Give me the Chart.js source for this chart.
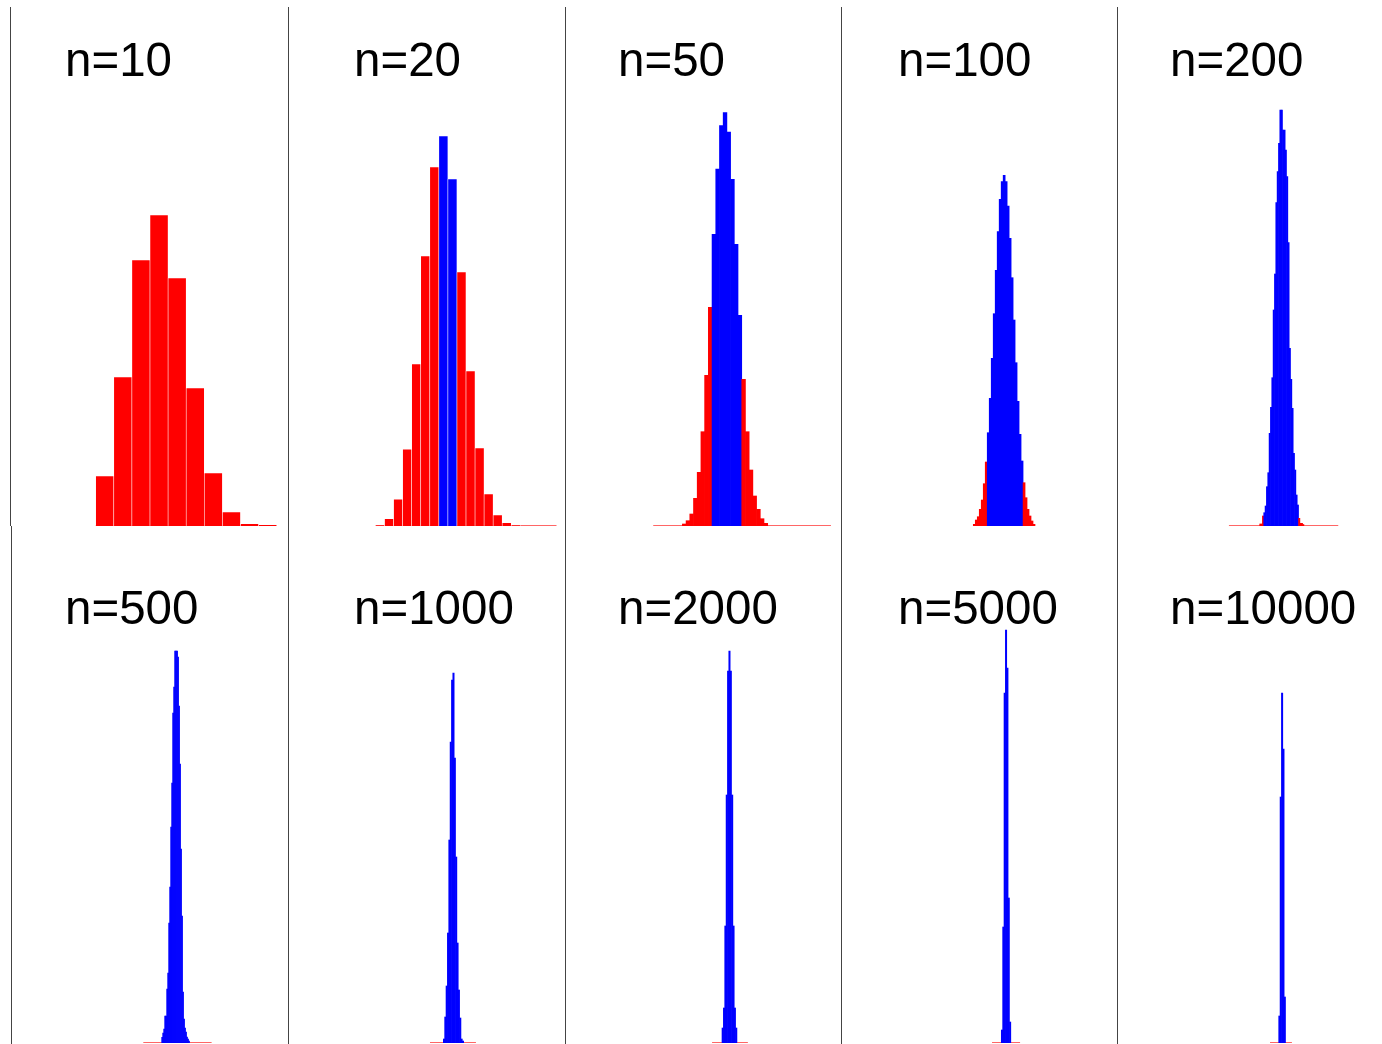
<!DOCTYPE html>
<html>
<head>
<meta charset="utf-8">
<script src="https://cdn.jsdelivr.net/npm/chart.js@4.4.1/dist/chart.umd.min.js"></script>
<style>
  html, body { margin: 0; padding: 0; background: #fff; }
  body { width: 1382px; height: 1044px; position: relative; overflow: hidden; }
  canvas { position: absolute; display: block; }
</style>
</head>
<body>
<script>
// ---- data (bar heights, left to right) ----
const labels = ['n=10', 'n=20', 'n=50', 'n=100', 'n=200',
                'n=500', 'n=1000', 'n=2000', 'n=5000', 'n=10000'];

const h10    = [50, 149, 266, 311, 248, 138, 53, 14, 2.3, 1.2];
const h20    = [1, 7.3, 26.7, 76.7, 162, 270, 359, 390, 347, 254, 155, 78, 32, 11, 3.3, 1];
const h50    = [2, 5.3, 12, 27.7, 53.7, 94.3, 150.7, 218.7, 291.7, 357, 400.3, 413.3,
                394, 346.7, 281.7, 210.7, 146.7, 94.3, 56, 30, 16.7, 7.3, 2.7];
const h100   = [1.7, 6, 9.3, 16.7, 26, 42.3, 64, 93.3, 127.7, 167.7, 212.3, 255.7, 294.3,
                326.7, 344.3, 350.7, 344.3, 320, 287.7, 248.3, 206, 163.3, 124.7, 91.7,
                65, 43.3, 28.3, 16.7, 10, 5, 1.7];
const h200   = [2, 2, 10, 13.3, 20, 39.3, 53.3, 92.7, 118.7, 148.3, 216, 252, 323.3, 354.3,
                382.7, 416, 416, 396, 396, 376, 349.3, 283.3, 177.7, 146.7, 117.7, 72.7,
                56, 31, 21, 7.7, 2.7, 2.7, 1.5];
const h500   = [5.7, 10, 14, 27, 27, 54, 70, 120, 156, 216, 260, 330, 356, 392, 392, 392,
                386, 337, 279, 194, 127, 51, 24, 15, 11, 6, 4, 2];
const h1000  = [4, 26, 57, 110, 203, 301, 363, 370, 285, 186, 100, 53, 25, 4, 2];
const h2000  = [15, 35, 117, 248, 372, 392, 372, 248, 117, 35, 15];
const h5000  = [13, 116, 350, 413, 375, 145, 21];
const h10000 = [27, 246, 350, 294, 46];

const heights = [h10, h20, h50, h100, h200, h500, h1000, h2000, h5000, h10000];

// left edge of first bar and bin width (x units)
const binStart = [-0.01, 0.0, 0.165, 0.2475, 0.305, 0.349, 0.3746, 0.384, 0.4022, 0.41];
const binWidth = [0.1, 0.05, 0.0205, 0.011, 0.0074, 0.0055, 0.0075, 0.0075, 0.0075, 0.0075];

// bins drawn in blue (index range, inclusive); -1 = none
const blueFrom = [-1, 7, 8, 7, 3, 0, 0, 0, 0, 0];
const blueTo   = [-1, 8, 15, 24, 28, 27, 14, 10, 6, 4];

// faint baseline covering the whole observed range
const spanLo = [-0.01, 0.0, 0.004, 0.2475, 0.135, 0.2475, 0.301, 0.329, 0.351, 0.362];
const spanHi = [0.99, 1.0, 0.986, 0.5885, 0.739, 0.625, 0.555, 0.527, 0.506, 0.483];

// ---- layout ----
const lineX = [10, 288, 565, 841, 1117, 11, 288, 565, 841, 1117];
const rowTop = [7, 526];
const rowHeight = [519, 518];
const labelX = [65, 354, 618, 898, 1170, 65, 354, 618, 898, 1170];
const labelBase = [76, 624];
const X_ORIGIN = 87.5, PX_PER_UNIT = 181;
const RED = '#FF0000', BLUE = '#0000FF';

const panelLabel = {
  id: 'panelLabel',
  afterDraw(chart, args, opts) {
    const ctx = chart.ctx;
    ctx.save();
    ctx.font = '47.5px "Liberation Sans", Arial, sans-serif';
    ctx.fillStyle = '#000';
    ctx.textBaseline = 'alphabetic';
    ctx.fillText(opts.text, opts.x, opts.y);
    ctx.restore();
  }
};

function makePanel(i) {
  const row = i < 5 ? 0 : 1;
  const last = i % 5 === 4;
  const left = lineX[i] - 1;
  const w = last ? 1382 - left : lineX[i + 1] - lineX[i];
  const h = rowHeight[row];
  const padBottom = row === 1 ? 1 : 0;

  const cv = document.createElement('canvas');
  cv.width = w; cv.height = h;
  cv.style.left = left + 'px';
  cv.style.top = rowTop[row] + 'px';
  document.body.appendChild(cv);

  const hs = heights[i];
  const pts = hs.map((v, k) => ({ x: binStart[i] + (k + 0.5) * binWidth[i], y: v }));
  const cols = hs.map((v, k) => (k >= blueFrom[i] && k <= blueTo[i]) ? BLUE : RED);
  const wide = i <= 1;   // only the wide bars show the light outline
  const plotW = w - 1;

  new Chart(cv.getContext('2d'), {
    type: 'bar',
    data: {
      datasets: [
        {
          type: 'line',
          data: [{ x: spanLo[i], y: 0.5 }, { x: spanHi[i], y: 0.5 }],
          borderColor: 'rgba(255,0,0,0.6)', borderWidth: 1, pointRadius: 0, order: 2
        },
        {
          data: pts,
          backgroundColor: cols,
          borderColor: wide ? 'rgba(255,255,255,0.75)' : cols,
          borderWidth: wide ? 0.6 : 0,
          barThickness: binWidth[i] * PX_PER_UNIT,
          order: 1
        }
      ]
    },
    options: {
      responsive: false,
      animation: false,
      events: [],
      layout: { padding: { left: 1, right: 0, top: 0, bottom: padBottom } },
      plugins: {
        legend: { display: false },
        tooltip: { enabled: false },
        panelLabel: { text: labels[i], x: labelX[i] - left, y: labelBase[row] - rowTop[row] }
      },
      scales: {
        x: {
          type: 'linear', display: false, offset: false, bounds: 'data',
          min: -X_ORIGIN / PX_PER_UNIT, max: (plotW - X_ORIGIN) / PX_PER_UNIT
        },
        y: {
          min: 0, max: h - padBottom,
          ticks: { display: false },
          grid: { display: false, drawTicks: false },
          border: { display: true, color: '#444', width: 1 }
        }
      }
    },
    plugins: [panelLabel]
  });
}

for (let i = 0; i < labels.length; i++) makePanel(i);
</script>
</body>
</html>
